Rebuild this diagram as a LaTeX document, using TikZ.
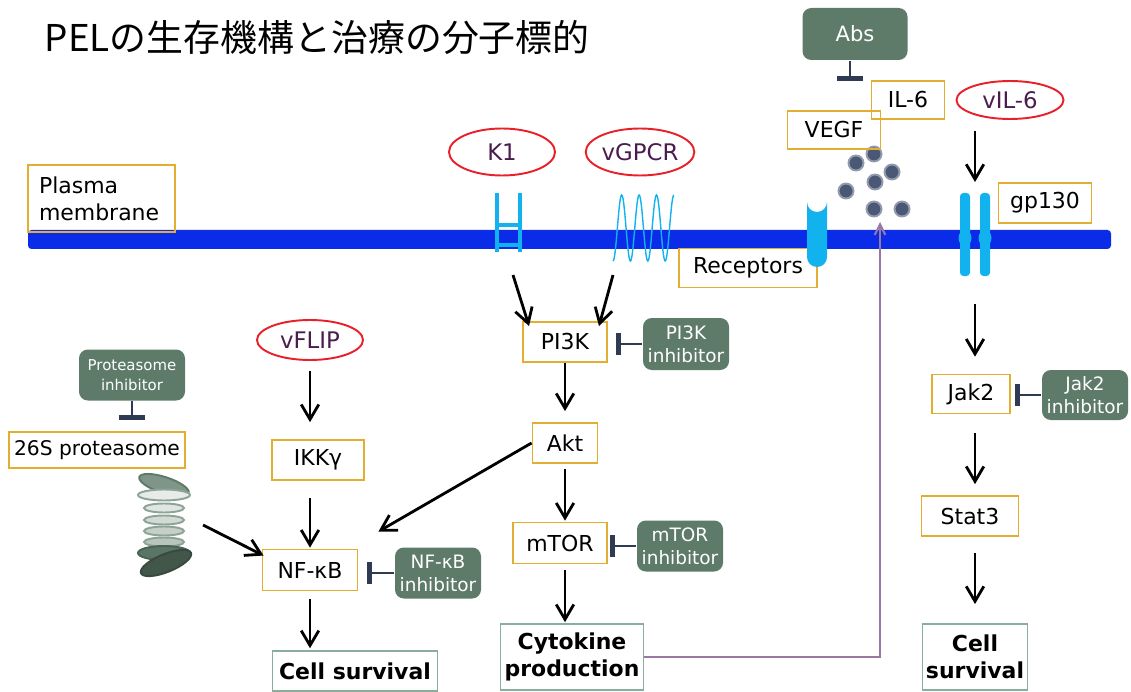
\documentclass[tikz,border=0pt]{standalone}
\usepackage{fontspec}
\setmainfont{DejaVu Sans}
\newfontfamily\jpfont{Noto Sans CJK JP}
\usetikzlibrary{arrows.meta, shapes.geometric, calc}
\definecolor{cgold}{HTML}{E3AE2F}
\definecolor{cteal}{HTML}{8AAE9E}
\definecolor{cdrug}{HTML}{5E7B6A}
\definecolor{cred}{HTML}{E8202A}
\definecolor{cviral}{HTML}{4B1D4F}
\definecolor{cmem}{HTML}{0A2BE8}
\definecolor{crec}{HTML}{12B2EE}
\definecolor{cdot}{HTML}{4A5876}
\definecolor{cbar}{HTML}{2F3B52}
\definecolor{cfeed}{HTML}{9A78A4}
\tikzset{
  every picture/.style={line width=1.1pt},
  boxsize/.style 2 args={minimum width=#1*0.02cm, minimum height=#2*0.02cm, inner sep=0pt},
  title/.style={font=\jpfont\fontsize{21}{25}\selectfont},
  mol/.style={draw=cgold, align=center, font=\fontsize{12.5}{15.3}\selectfont},
  outcome/.style={draw=cteal, align=center, font=\bfseries\fontsize{12.5}{15.3}\selectfont},
  viral/.style={ellipse, draw=cred, text=cviral, font=\fontsize{13}{15}\selectfont},
  drug/.style={fill=cdrug, rounded corners=5pt, text=white, align=center, font=\fontsize{10.5}{13}\selectfont},
  arrow/.style={-{Straight Barb[length=8.5pt, width=10pt]}, line width=1.6pt},
  inhib/.style={-{Bar[width=#1, line width=2.8pt]}, draw=cbar, line width=1.6pt},
  inhib/.default=12pt,
  feedback/.style={-{Straight Barb[length=6pt, width=6pt]}, draw=cfeed, line width=1.2pt},
}
\begin{document}
\begin{tikzpicture}[x=0.02cm, y=0.02cm]
  \useasboundingbox (0,0) rectangle (1131,-692);
  \node[title, anchor=base west] (title) at (38,-52) {PELの生存機構と治療の分子標的};

  % membrane with its labels
  \fill[cmem, rounded corners=2pt] (28,-230) rectangle (1111,-249);
  \node[mol, boxsize={147}{67}, align=left, text width=2.5cm] (pm) at (101.5,-198.5) {Plasma\\membrane};
  \node[mol, boxsize={138}{39}] (receptors) at (748,-268) {Receptors};
  \node[mol, boxsize={93}{40}] (gp130) at (1045,-203) {gp130};

  % K1 receptor
  \draw[crec, line width=2.8pt] (497,-193) -- (497,-252) (520,-193) -- (520,-252);
  \draw[crec, line width=1.8pt] (497,-225) -- (520,-225) (497,-245) -- (520,-245);
  % vGPCR, seven passes through the membrane
  \draw[crec, line width=0.8pt] plot[domain=0:3.5, samples=120] ({613+17.4*\x}, {-228-33*cos(360*\x)});
  % VEGF receptor with its binding cup
  \fill[crec] (807,-202) -- (807,-257) arc[start angle=180, end angle=360, radius=10]
    -- (827,-202) arc[start angle=0, end angle=-180, radius=10] -- cycle;
  % gp130 dimer
  \foreach \x in {965,985} {
    \fill[crec, rounded corners=2pt] (\x-5,-193) rectangle (\x+5,-276);
    \fill[crec] (\x,-238) ellipse [x radius=6.5, y radius=8];
  }
  % ligands
  \foreach \x/\y in {874/154, 856/163, 892/172, 875/182, 846/191, 874/209, 902/209}
    \fill[cdot, draw=cdot!60] (\x,-\y) circle (7.5);

  % viral proteins
  \node[viral, boxsize={106}{47}] (k1) at (502,-152) {K1};
  \node[viral, boxsize={106}{47}] (vgpcr) at (640,-152) {vGPCR};
  \node[viral, boxsize={107}{38}] (vil6) at (1010,-100) {vIL-6};
  \node[viral, boxsize={106}{40}] (vflip) at (310,-340) {vFLIP};

  % cytokines and antibodies
  \node[drug, boxsize={105}{52}, font=\fontsize{12}{14}\selectfont] (abs) at (855,-34) {Abs};
  \node[mol, boxsize={73}{38}] (il6) at (908,-100) {IL-6};
  \node[mol, boxsize={93}{38}] (vegf) at (834,-130) {VEGF};

  % PI3K / Akt / mTOR
  \node[mol, boxsize={84}{40}] (pi3k) at (565,-342) {PI3K};
  \node[mol, boxsize={65}{40}] (akt) at (565,-443) {Akt};
  \node[mol, boxsize={94}{41}] (mtor) at (560,-543) {mTOR};
  \node[outcome, boxsize={143}{66}] (cyto) at (572,-657) {Cytokine\\production};
  \node[drug, boxsize={86}{52}] (pi3kinh) at (686,-344) {PI3K\\inhibitor};
  \node[drug, boxsize={86}{51}] (mtorinh) at (680,-546) {mTOR\\inhibitor};

  % NF-kB
  \node[mol, boxsize={92}{40}] (ikk) at (318,-460) {IKKγ};
  \node[mol, boxsize={95}{41}] (nfkb) at (310,-570) {NF-κB};
  \node[outcome, boxsize={165}{40}] (survL) at (355,-671) {Cell survival};
  \node[drug, boxsize={86}{51}] (nfkbinh) at (438,-573) {NF-κB\\inhibitor};
  \node[mol, boxsize={176}{36}, font=\fontsize{11.5}{14}\selectfont] (prot26) at (97,-450) {26S proteasome};
  \node[drug, boxsize={106}{51}, font=\fontsize{8.5}{11.3}\selectfont] (protinh) at (132,-375) {Proteasome\\inhibitor};

  % Jak2 / Stat3
  \node[mol, boxsize={78}{39}] (jak2) at (971,-394) {Jak2};
  \node[mol, boxsize={97}{40}] (stat3) at (970,-516) {Stat3};
  \node[outcome, boxsize={105}{66}] (survR) at (975,-657) {Cell\\survival};
  \node[drug, boxsize={86}{50}] (jak2inh) at (1085,-395) {Jak2\\inhibitor};

  % proteasome barrel
  \filldraw[fill=cdrug!80!white, draw=cdrug] (164,-485) ellipse [x radius=26, y radius=8, rotate=-18];
  \filldraw[fill=cdrug!15!white, draw=cdrug!70] (164,-495) ellipse [x radius=26, y radius=5.5];
  \foreach \y/\t in {508/20, 520/28, 531/36, 542/44}
    \filldraw[fill=cdrug!\t!white, draw=cdrug!70] (164,-\y) ellipse [x radius=20, y radius=4.5];
  \filldraw[fill=cdrug!95!black, draw=cdrug!80!black] (164,-553) ellipse [x radius=26, y radius=7];
  \filldraw[fill=cdrug!70!black, draw=cdrug!60!black] (166,-563) ellipse [x radius=27, y radius=9, rotate=22];

  % free ends of connectors
  \coordinate (k1foot) at (513,-275);
  \coordinate (gpcrfoot) at (613,-275);
  \coordinate (gptop) at (975,-182);
  \coordinate (gpfoot) at (975,-304);
  \coordinate (protfoot) at (203,-525);
  \coordinate (ligand) at (880,-222);
  \coordinate (absbar) at (850,-81);

  % activation
  \draw[arrow] (k1foot) -- ($(pi3k.north west)+(7,-5)$);
  \draw[arrow] (gpcrfoot) -- ($(pi3k.north east)+(-9,-5)$);
  \draw[arrow, shorten >=6.2pt] (pi3k.south) -- (pi3k.south |- akt.north);
  \draw[arrow, shorten <=2.8pt, shorten >=0.5pt] (akt.south) -- (akt.south |- mtor.north);
  \draw[arrow, shorten <=3.4pt, shorten >=0.5pt] (akt.south |- mtor.south) -- (akt.south |- cyto.north);
  \draw[arrow] (akt.west) -- ($(nfkb.north east)+(20,17)$);
  \draw[arrow, shorten <=5.7pt, shorten >=9.6pt] (vflip.south) -- (vflip.south |- ikk.north);
  \draw[arrow, shorten <=9.6pt, shorten >=0.5pt] (nfkb.north |- ikk.south) -- (nfkb.north);
  \draw[arrow, shorten <=4pt, shorten >=1pt] (nfkb.south) -- (nfkb.south |- survL.north);
  \draw[arrow] (protfoot) -- ($(nfkb.north west)+(2,-7)$);
  \draw[arrow, shorten <=6.2pt] (gptop |- vil6.south) -- (gptop);
  \draw[arrow, shorten >=9.6pt] (gpfoot) -- (gpfoot |- jak2.north);
  \draw[arrow, shorten <=10.8pt, shorten >=6.2pt] (gptop |- jak2.south) -- (gptop |- stat3.north);
  \draw[arrow, shorten <=9pt, shorten >=10.8pt] (gptop |- stat3.south) -- (gptop |- survR.north);

  % inhibition
  \draw[inhib, shorten >=4.5pt] (pi3kinh.west) -- (pi3kinh.west -| pi3k.east);
  \draw[inhib, shorten >=1pt] (mtorinh.west) -- (mtorinh.west -| mtor.east);
  \draw[inhib, shorten >=5pt] (nfkbinh.west) -- (nfkbinh.west -| nfkb.east);
  \draw[inhib, shorten >=2.3pt] (jak2inh.west) -- (jak2inh.west -| jak2.east);
  \draw[inhib=15pt, shorten >=6.2pt] (protinh.south) -- (protinh.south |- prot26.north);
  \draw[inhib=15pt] (abs.south -| absbar) -- (absbar);

  % cytokines feed back onto the cell
  \draw[feedback] (cyto.east) -| (ligand);
\end{tikzpicture}
\end{document}
